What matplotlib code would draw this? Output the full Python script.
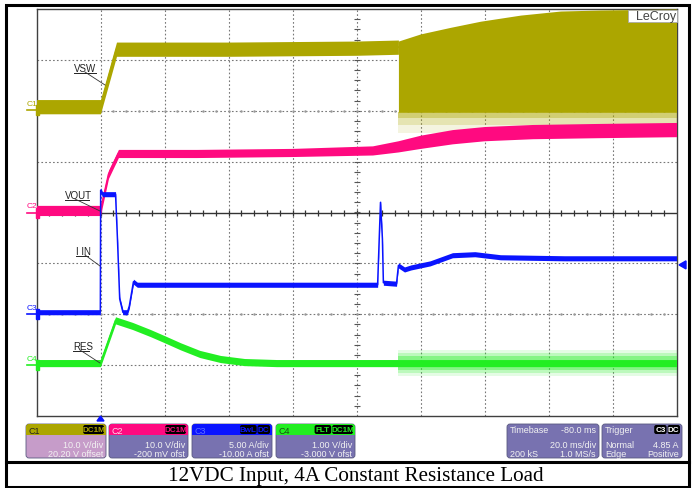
import numpy as np
import matplotlib.pyplot as plt
from matplotlib.patches import FancyBboxPatch, Rectangle, Polygon

# time axis in ms: trigger at 0, 20 ms/div, 10 divisions
t_min, t_max = -20, 180

# channel setup: units per division and zero position (divisions from centre)
ch_scale = {'C1': 10.0, 'C2': 10.0, 'C3': 5.0, 'C4': 1.0}
ch_zero = {'C1': 2.02, 'C2': 0.0, 'C3': -2.0, 'C4': -3.0}
ch_color = {'C1': '#aca600', 'C2': '#ff0a80', 'C3': '#0a14ff', 'C4': '#22ee22'}

# C1 VSW (V) up to start of switching
vsw_t = [-20, 0, 5, 20, 40, 60, 80, 93.1]
vsw_v = [0.6, 0.6, 11.9, 11.9, 11.9, 12.0, 12.1, 12.3]
vsw_noise = 1.4
# switching burst envelope (V)
burst_t = [93.1, 100, 109.4, 118.75, 131.25, 143.75, 156.25, 180]
burst_top = [13.5, 14.9, 16.2, 17.4, 18.6, 19.4, 19.6, 19.8]
burst_low = -0.5
burst_spike = [-1.6, -3.0, -4.6]   # spike depth bands, densest first

# C2 VOUT (V)
vout_t = [-20, 0, 2.5, 5.6, 30, 60, 85, 93, 100, 110, 120, 135, 155, 180]
vout_v = [0.4, 0.4, 7.5, 11.6, 11.6, 11.8, 12.2, 13.0, 13.9, 14.9, 15.5, 15.9, 16.1, 16.3]
vout_noise = [1.0, 1.0, 0.8, 0.8, 0.8, 0.8, 0.9, 1.1, 1.3, 1.4, 1.4, 1.4, 1.4, 1.4]

# C3 IIN (A)
iin_t = [-20, -0.05, 0.05, 0.6, 4.7, 5.3, 6.0, 7.0, 8.4, 9.0, 10.3, 11.5,
         86.6, 87.5, 88.1, 88.4, 92.5, 93.1, 95, 97, 103, 110, 117, 125, 145, 180]
iin_v = [0.2, 0.2, 12.2, 11.8, 11.8, 7.4, 1.5, 0.2, 0.2, 0.8, 3.2, 2.9,
         2.9, 11.0, 7.4, 3.1, 3.0, 4.8, 4.4, 4.6, 5.0, 5.8, 5.9, 5.6, 5.5, 5.5]
iin_noise = 0.25

# C4 RES (V)
res_t = [-20, 0, 4.7, 10, 15.6, 20, 25, 31, 37.5, 45, 55, 93.1, 180]
res_v = [0.04, 0.04, 0.88, 0.77, 0.63, 0.51, 0.37, 0.22, 0.12, 0.06, 0.04, 0.04, 0.04]
res_noise = 0.07
res_burst_t = [93.1, 180]
res_burst_spike = [0.13, 0.19, 0.25]

trig_level = 4.85  # A on C3


def to_div(ch, v):
    return ch_zero[ch] + np.asarray(v, dtype=float) / ch_scale[ch]


def div_to_px(d):
    return 213.5 - d * 50.875


fig = plt.figure(figsize=(6.94, 4.89), dpi=100)
fig.patch.set_facecolor('white')

ax = fig.add_axes([36.5 / 694, (489 - 417) / 489, 640 / 694, 407 / 489])
ax.set_xlim(t_min, t_max)
ax.set_ylim(-4, 4)
ax.set_xticks([])
ax.set_yticks([])
for s in ax.spines.values():
    s.set_color('#404040')
    s.set_linewidth(1.0)

# graticule
for i in range(1, 10):
    x = t_min + 20 * i
    ax.axvline(x, color='#777777', lw=0.8, ls=(0, (1.5, 2.0)), zorder=1)
for d in range(-3, 4):
    if d == 0:
        continue
    ax.axhline(d, color='#777777', lw=0.8, ls=(0, (1.5, 2.0)), zorder=1)
ax.axhline(0, color='#333333', lw=1.0, zorder=1)
minor_t = np.arange(t_min + 4, t_max, 4)
ax.plot(minor_t, np.zeros_like(minor_t), ls='none', marker='|', ms=5,
        mew=0.9, color='#333333', zorder=1)
minor_d = np.arange(-3.8, 4, 0.2)
ax.plot(np.full_like(minor_d, 80), minor_d, ls='none', marker='_', ms=4,
        mew=0.8, color='#555555', zorder=1)
for d in (2.5, -2.5):
    ax.plot(minor_t, np.full_like(minor_t, d), ls='none', marker='.', ms=1.6,
            color='#999999', zorder=1)

# C1 VSW
c = ch_color['C1']
v = to_div('C1', vsw_v)
ax.fill_between(vsw_t, v - vsw_noise / 10, v + vsw_noise / 10, color=c, lw=0, zorder=3)
ax.plot(vsw_t, v, color=c, lw=1.2, zorder=3)
ax.fill_between(burst_t, to_div('C1', burst_top), to_div('C1', burst_low),
                color=c, lw=0, zorder=3)
prev = burst_low
for depth, a in zip(burst_spike, [0.55, 0.3, 0.12]):
    ax.fill_between(burst_t, to_div('C1', prev), to_div('C1', depth),
                    color=c, alpha=a, lw=0, zorder=3)
    prev = depth

# C2 VOUT
c = ch_color['C2']
v = to_div('C2', vout_v)
n = np.asarray(vout_noise) / 10
ax.fill_between(vout_t, v - n, v + n, color=c, lw=0, zorder=4)
ax.plot(vout_t, v, color=c, lw=1.2, zorder=4)

# C3 IIN
c = ch_color['C3']
v = to_div('C3', iin_v)
ax.fill_between(iin_t, v - iin_noise / 5, v + iin_noise / 5, color=c, lw=0, zorder=5)
ax.plot(iin_t, v, color=c, lw=1.1, zorder=5)

# C4 RES
c = ch_color['C4']
v = to_div('C4', res_v)
ax.fill_between(res_t, v - res_noise, v + res_noise, color=c, lw=0, zorder=6)
ax.plot(res_t, v, color=c, lw=1.2, zorder=6)
base = to_div('C4', res_v[-1])
prev = res_noise
for depth, a in zip(res_burst_spike, [0.55, 0.3, 0.12]):
    ax.fill_between(res_burst_t, base + prev, base + depth, color=c, alpha=a, lw=0, zorder=6)
    ax.fill_between(res_burst_t, base - prev, base - depth, color=c, alpha=a, lw=0, zorder=6)
    prev = depth

# overlay in pixel coordinates
ov = fig.add_axes([0, 0, 1, 1], zorder=10)
ov.set_xlim(0, 694)
ov.set_ylim(489, 0)
ov.axis('off')
ov.patch.set_alpha(0)

# outer frame and caption
ov.add_patch(Rectangle((6, 6), 683, 482, fill=False, ec='black', lw=2.2))
ov.plot([6, 689], [463, 463], color='black', lw=2.2)
ov.text(356, 476, '12VDC Input, 4A Constant Resistance Load', ha='center',
        va='center', fontsize=15.2, family='Liberation Serif', color='black')

# LeCroy logo
ov.add_patch(Rectangle((628, 10.5), 49, 12.5, fc='white', ec='#aaaaaa', lw=0.6))
ov.text(676.5, 17, 'LeCroy', ha='right', va='center', fontsize=9,
        family='Liberation Sans', color='#444444')

# channel ground markers
for ch in ['C1', 'C2', 'C3', 'C4']:
    y = div_to_px(ch_zero[ch])
    c = ch_color[ch]
    ov.plot([27, 37], [y, y], color=c, lw=1.2)
    ov.add_patch(Rectangle((36.5, y - 5), 3, 10, color=c))
    ov.text(27, y - 3, ch, ha='left', va='bottom', fontsize=6,
            family='Liberation Sans', color=c)

# trace labels with leaders
labels = [('VSW', 74, 96, 72, (85, 73), (105, 86)),
          ('VOUT', 65, 89, 199, (75, 200), (100, 212)),
          ('I IN', 76, 88, 255, (85, 256), (100, 267)),
          ('RES', 73, 89, 350, (80, 351), (100, 364))]
for txt, x0, x1, yb, p0, p1 in labels:
    ov.text(x0, yb, txt, ha='left', va='baseline', fontsize=7,
            family='Liberation Sans', color='#222222')
    ov.plot([x0, x1], [yb + 1.5, yb + 1.5], color='#222222', lw=0.7)
    ov.plot([p0[0], p1[0]], [p0[1], p1[1]], color='#333333', lw=0.6)

# trigger markers
tx = 36.5 + (0 - t_min) / 20 * 64
ov.add_patch(Polygon([[tx - 3.5, 422], [tx + 3.5, 422], [tx, 417]], color=ch_color['C3']))
ty = div_to_px(to_div('C3', trig_level))
ov.add_patch(Polygon([[679, ty], [686, ty - 4], [686, ty + 4]], color=ch_color['C3']))


def badge(xr, yc, text, color):
    w = 4.2 * len(text) + 4
    ov.add_patch(FancyBboxPatch((xr - w, yc - 4.5), w, 9,
                                boxstyle='round,pad=0,rounding_size=2',
                                fc='black', ec='none'))
    ov.text(xr - w / 2, yc + 0.3, text, ha='center', va='center', fontsize=5.8,
            family='Liberation Sans', weight='bold', color=color)
    return xr - w - 1


def info_box(x0, x1, head, body, name, name_color, badges, badge_color, lines):
    ov.add_patch(FancyBboxPatch((x0, 425), x1 - x0, 34,
                                boxstyle='round,pad=0,rounding_size=3',
                                fc=body, ec='#5a5a80', lw=0.6))
    if head is not None:
        ov.add_patch(FancyBboxPatch((x0, 425), x1 - x0, 11,
                                    boxstyle='round,pad=0,rounding_size=3',
                                    fc=head, ec='none'))
        ov.add_patch(Rectangle((x0, 431), x1 - x0, 5, fc=head, ec='none'))
    if name:
        ov.text(x0 + 3, 431, name, ha='left', va='center', fontsize=6.5,
                family='Liberation Sans', color=name_color)
    xr = x1 - 2
    for b in reversed(badges):
        xr = badge(xr, 430.5, b, badge_color)
    for (left, right), y in zip(lines, [430.5, 445, 454.5]):
        if left:
            ov.text(x0 + 3, y, left, ha='left', va='center', fontsize=6.5,
                    family='Liberation Sans', color='#f2f2f2')
        if right:
            ov.text(x1 - 3, y, right, ha='right', va='center', fontsize=6.5,
                    family='Liberation Sans', color='#f2f2f2')


slate = '#7872b0'
info_box(26, 106, ch_color['C1'], '#c69cc9', 'C1', '#222222', ['DC1M'], ch_color['C1'],
         [('', ''), ('', '10.0 V/div'), ('', '20.20 V offset')])
info_box(109, 188, ch_color['C2'], slate, 'C2', '#ffd6ea', ['DC1M'], ch_color['C2'],
         [('', ''), ('', '10.0 V/div'), ('', '-200 mV ofst')])
info_box(192, 272, ch_color['C3'], slate, 'C3', '#6070ff', ['BwL', 'DC'], ch_color['C3'],
         [('', ''), ('', '5.00 A/div'), ('', '-10.00 A ofst')])
info_box(276, 355, ch_color['C4'], slate, 'C4', '#1a4a1a', ['FLT', 'DC1M'], ch_color['C4'],
         [('', ''), ('', '1.00 V/div'), ('', '-3.000 V ofst')])
info_box(507, 599, None, slate, '', '#f2f2f2', [], 'white',
         [('Timebase', '-80.0 ms'), ('', '20.0 ms/div'), ('200 kS', '1.0 MS/s')])
info_box(602, 682, None, slate, '', '#f2f2f2', ['C3', 'DC'], 'white',
         [('Trigger', ''), ('Normal', '4.85 A'), ('Edge', 'Positive')])

fig.savefig('out.png', dpi=100)
